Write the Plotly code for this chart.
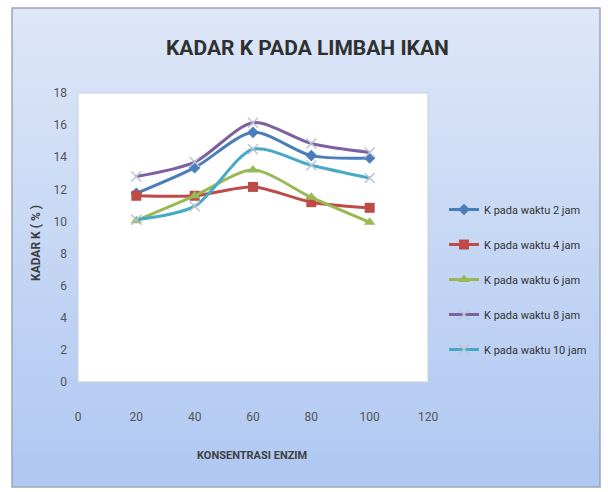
import plotly.graph_objects as go

konsentrasi = [20, 40, 60, 80, 100]
k_2jam = [11.75, 13.35, 15.55, 14.1, 13.95]
k_4jam = [11.6, 11.6, 12.15, 11.2, 10.85]
k_6jam = [10.05, 11.6, 13.2, 11.5, 9.95]
k_8jam = [12.8, 13.7, 16.15, 14.85, 14.3]
k_10jam = [10.1, 10.95, 14.5, 13.5, 12.7]

series = [
    ("K pada waktu 2 jam", k_2jam, "#4a7ebb", "diamond", 9),
    ("K pada waktu 4 jam", k_4jam, "#be4b48", "square", 10),
    ("K pada waktu 6 jam", k_6jam, "#98b954", "triangle-up", 10),
    ("K pada waktu 8 jam", k_8jam, "#7d60a0", "x-thin", 10),
    ("K pada waktu 10 jam", k_10jam, "#46aac5", "x-thin", 10),
]

FONT = "Roboto, Open Sans, sans-serif"

fig = go.Figure()
for i, (name, vals, col, sym, sz) in enumerate(series):
    mk = dict(symbol=sym, size=sz, color=col)
    if sym == "x-thin":
        mk["line"] = dict(color="#b9c3d6", width=1.5)
    fig.add_trace(go.Scatter(
        x=konsentrasi, y=vals, name=name, mode="lines+markers",
        line=dict(color=col, width=3, shape="spline", smoothing=0.8),
        marker=mk, legendgroup=str(i),
    ))

# plot area pixel box: x 78..428, y 93..382
L, R, T, B = 78, 428, 93, 382
W, H = R - L, B - T
def px(x): return (x - L) / W
def py(y): return (B - y) / H

shapes = []
# gradient background box
top = (221, 231, 248)
bot = (176, 200, 242)
n = 30
y_top, y_bot = 8, 487
for k in range(n):
    t = k / (n - 1)
    c = tuple(int(top[j] + (bot[j] - top[j]) * t) for j in range(3))
    ya = y_top + (y_bot - y_top) * k / n
    yb = y_top + (y_bot - y_top) * (k + 1) / n + 0.8
    shapes.append(dict(type="rect", xref="paper", yref="paper", layer="below",
                       x0=px(12), x1=px(600), y0=py(min(yb, y_bot)), y1=py(ya),
                       fillcolor="rgb(%d,%d,%d)" % c, line=dict(width=0)))
shapes.append(dict(type="rect", xref="paper", yref="paper", layer="below",
                   x0=px(12), x1=px(600), y0=py(487), y1=py(8),
                   fillcolor="rgba(0,0,0,0)", line=dict(color="#9aa6bb", width=1.5)))
shapes.append(dict(type="rect", xref="paper", yref="paper", layer="below",
                   x0=0, x1=1, y0=0, y1=1,
                   fillcolor="white", line=dict(color="#c9cfd9", width=1)))
fig.update_layout(shapes=shapes)

fig.update_layout(
    width=608, height=492,
    margin=dict(l=L, r=608 - R, t=T, b=492 - B),
    paper_bgcolor="white", plot_bgcolor="rgba(0,0,0,0)",
    font=dict(family=FONT, color="#404040"),
    showlegend=True,
    legend=dict(x=px(444), y=py(195), xanchor="left", yanchor="top",
                bgcolor="rgba(0,0,0,0)", font=dict(size=11, color="#333", family=FONT),
                tracegroupgap=16, itemwidth=30),
    annotations=[
        dict(text="<b>KADAR K PADA LIMBAH IKAN</b>", xref="paper", yref="paper",
             x=px(307), y=py(48), xanchor="center", yanchor="middle", showarrow=False,
             font=dict(size=21, color="#303030", family=FONT)),
        dict(text="<b>KADAR K ( % )</b>", xref="paper", yref="paper",
             x=px(36), y=py(243), xanchor="center", yanchor="middle", showarrow=False,
             textangle=-90, font=dict(size=12, color="#404040", family=FONT)),
        dict(text="<b>KONSENTRASI ENZIM</b>", xref="paper", yref="paper",
             x=px(252), y=py(455), xanchor="center", yanchor="middle", showarrow=False,
             font=dict(size=11, color="#404040", family=FONT)),
    ],
)
fig.update_xaxes(range=[0, 120], tickvals=[0, 20, 40, 60, 80, 100, 120],
                 showgrid=False, zeroline=False, showline=False,
                 tickfont=dict(size=12, color="#555"), ticklabelstandoff=26)
fig.update_yaxes(range=[0, 18], dtick=2, showgrid=False, zeroline=False, showline=False,
                 tickfont=dict(size=12, color="#555"), ticklabelstandoff=10)

fig.write_html("out.html")
